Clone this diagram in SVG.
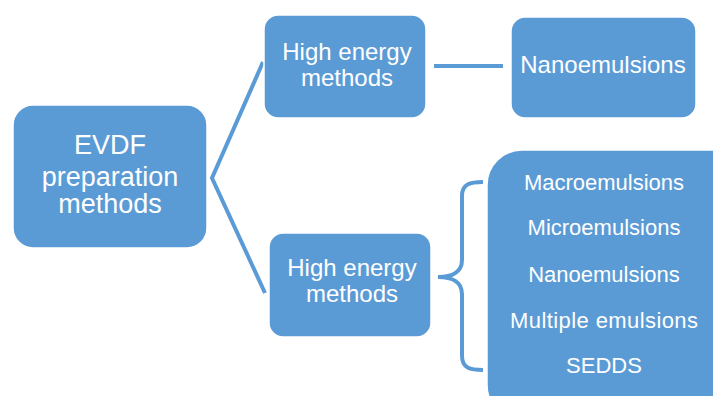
<svg xmlns="http://www.w3.org/2000/svg" width="713" height="396" viewBox="0 0 713 396">
<style>
.box{fill:#5B9BD5;stroke:#ffffff;stroke-width:1.5}
.t{fill:#ffffff;font-family:"Liberation Sans",Arial,sans-serif;text-anchor:middle}
.c{fill:none;stroke:#5B9BD5;stroke-width:4;stroke-linejoin:miter}
</style>
<rect width="713" height="396" fill="#ffffff"/>
<g id="connectors">
<polyline class="c" points="263,62 212,178 265,293"/>
<line class="c" x1="434" y1="66" x2="503" y2="66"/>
<path class="c" d="M483,182 C470,182 462,184 462,196 L462,260 C462,272 452,277 438,277 C452,277 462,282 462,294 L462,356 C462,368 470,370 483,370"/>
</g>
<g id="evdf">
<rect class="box" x="13" y="105" width="194" height="143" rx="20"/>
<text class="t" font-size="27" x="110" y="154">EVDF</text>
<text class="t" font-size="27" x="110" y="186">preparation</text>
<text class="t" font-size="27" x="110" y="213">methods</text>
</g>
<g id="high1">
<rect class="box" x="264" y="15" width="162" height="103" rx="14"/>
<text class="t" font-size="24" x="347" y="60">High energy</text>
<text class="t" font-size="24" x="347" y="86">methods</text>
</g>
<g id="nano">
<rect class="box" x="511" y="17" width="185" height="101" rx="14"/>
<text class="t" font-size="24" x="603" y="73">Nanoemulsions</text>
</g>
<g id="high2">
<rect class="box" x="269" y="233" width="162" height="104" rx="14"/>
<text class="t" font-size="24" x="352" y="276">High energy</text>
<text class="t" font-size="24" x="352" y="302">methods</text>
</g>
<g id="list">
<rect class="box" x="487" y="150" width="260" height="270" rx="35"/>
<text class="t" font-size="22" x="604" y="190">Macroemulsions</text>
<text class="t" font-size="22" x="604" y="235">Microemulsions</text>
<text class="t" font-size="22" x="604" y="282">Nanoemulsions</text>
<text class="t" font-size="22" x="604" y="328" textLength="188" lengthAdjust="spacing">Multiple emulsions</text>
<text class="t" font-size="22" x="604" y="373">SEDDS</text>
</g>
</svg>
